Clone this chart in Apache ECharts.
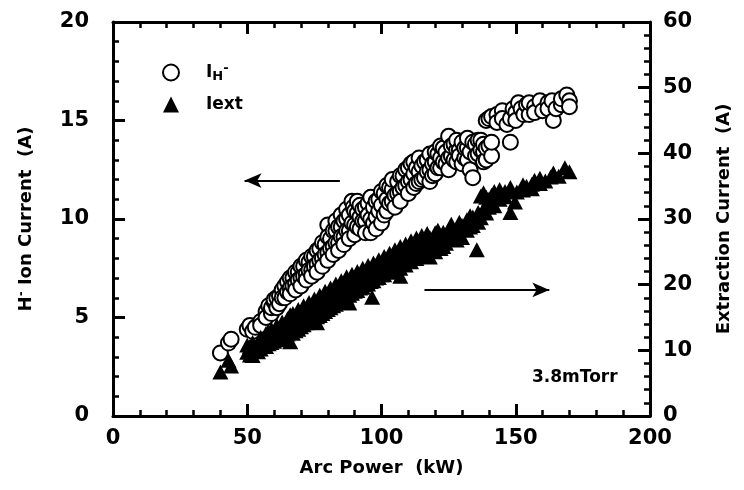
<!DOCTYPE html>
<html>
<head>
<meta charset="utf-8">
<script src="https://cdn.jsdelivr.net/npm/echarts@6/dist/echarts.min.js"></script>
<style>html,body{margin:0;padding:0;background:#fff;}#c{width:744px;height:490px;}</style>
</head>
<body>
<div id="c"></div>
<script>
// [arc power (kW), H- ion current (A)] — left axis
const ihPoints = [
[40,3.2],[43,3.7],[44,3.9],[50,4.4],[51,4.6],[52,4.3],[53,4.5],[55,4.8],[55,4.6],[57,5.3],[57,5.0],[58,5.6],[59,5.2],[59,5.5],
[60,5.8],[60,5.9],[61,5.5],[61,6.0],[62,6.1],[62,5.7],[63,6.4],[63,6.0],[64,6.0],[64,6.6],[65,6.8],[65,6.3],[66,6.5],[66,7.0],[66,6.2],
[67,7.0],[67,6.6],[68,6.7],[68,7.3],[68,6.4],[69,7.3],[69,6.9],[70,7.0],[70,7.6],[70,6.6],[71,7.6],[71,7.1],[72,7.2],[72,7.9],[72,6.9],
[73,7.8],[73,7.4],[74,7.4],[74,8.1],[74,7.1],[75,8.1],[75,7.6],[76,7.7],[76,8.4],[76,7.3],[77,8.5],[77,7.9],[78,8.0],[78,8.8],[78,7.6],
[79,8.7],[79,8.2],[80,9.7],[80,8.3],[80,9.1],[80,7.9],[81,9.0],[81,8.5],[82,8.6],[82,9.4],[82,8.2],[83,9.4],[83,8.8],[83,9.9],
[84,8.8],[84,9.6],[84,8.4],[85,9.6],[85,9.1],[85,10.2],[86,9.1],[86,9.9],[86,8.7],[87,10.0],[87,9.4],[87,10.5],[88,9.4],[88,10.2],[88,9.0],
[89,10.9],[89,9.8],[89.5,10.6],[90,9.7],[90,10.4],[90,9.2],[91,10.3],[91,9.6],[91,10.9],[92,9.5],[92,10.1],[92,10.7],[93,10.5],[93,9.9],
[94,9.9],[94,10.6],[94,9.3],[95,10.8],[95,10.2],[96,9.3],[96,10.0],[96,11.1],[97,10.6],[97,9.8],[98,10.1],[98,10.9],[98,9.5],[99,11.0],[99,10.4],
[100,9.8],[100,10.7],[100,11.4],[101,11.3],[101,10.2],[102,10.4],[102,11.0],[102,11.7],[103,11.6],[103,10.8],[104,10.9],[104,11.5],[104,12.0],
[105,11.2],[105,10.6],[106,11.9],[106,11.3],[107,11.4],[107,12.2],[107,10.9],[108,12.2],[108,11.6],[109,11.7],[109,12.5],[110,12.6],[110,11.9],[110,11.3],
[111,12.0],[111,12.8],[112,12.9],[112,12.3],[112,11.6],[113,11.8],[113,12.6],[114,12.4],[114,11.9],[114,13.1],[115,12.7],[115,12.0],[116,12.1],[116,12.9],
[117,13.0],[117,12.4],[118,12.5],[118,13.3],[118,11.9],[119,12.2],[119,12.8],[120,12.9],[120,13.4],[120,12.3],[121,13.3],[121,12.6],
[122,12.6],[122,13.1],[122,13.7],[123,13.6],[123,12.9],[124,12.8],[124,13.4],[125,14.2],[125,13.1],[125,12.5],[126,13.2],[126,13.7],[127,13.8],[127,13.0],
[128,12.9],[128,13.5],[128,14.0],[129,13.5],[129,13.2],[130,13.9],[130,12.8],[131,13.1],[131,13.6],[132,13.6],[132,14.1],[132,13.0],[133,12.5],[133,13.4],
[134,12.1],[134,13.9],[135,13.8],[135,13.2],[136,13.3],[136,14.0],[137,14.0],[137,13.5],[138,13.4],[138,12.9],[138,13.8],[139,13.0],[139,15.0],[139,13.6],
[140,13.7],[140,15.1],[141,13.2],[141,15.2],[141,13.9],[143,15.3],[143,14.9],[145,15.5],[145,15.1],[146.7,14.8],[148,13.9],[148,15.1],[149,15.6],
[150,15.4],[150,15.0],[151,15.9],[152,15.6],[153,15.3],[154,15.8],[155,15.3],[155,15.9],[157,15.7],[157,15.4],[159,16.0],[160,15.5],
[162,15.9],[162,15.6],[163.5,16.0],[164,15.0],[165,15.6],[167,15.8],[167,16.1],[169,16.3],[170,16.0],[170,15.7]
];
// [arc power (kW), extraction current (A)] — right axis
const extPoints = [
[40,6.7],[43,8.5],[44,7.6],[50,9.7],[50,10.8],[51,10.6],[51,9.3],[52,9.2],[52,11.2],[53,10.1],[54,11.0],[54,9.8],[55,10.2],[55,12.0],
[56,11.8],[56,10.6],[57,10.6],[57,12.6],[58,12.2],[58,11.0],[59,11.2],[59,13.2],[60,12.6],[60,11.4],[61,11.6],[61,13.8],[61,12.4],
[62,13.0],[62,11.8],[63,12.1],[63,14.3],[63,13.3],[64,13.5],[64,12.3],[65,12.5],[65,14.8],[65,13.6],[66,11.3],[66,14.2],[66,15.4],
[67,13.8],[67,12.6],[67,15.6],[68,13.0],[68,15.0],[69,14.4],[69,13.2],[69,16.2],[70,13.6],[70,15.6],[71,15.0],[71,13.9],[71,16.8],
[72,14.2],[72,16.1],[73,15.5],[73,14.3],[73,17.3],[74,14.6],[74,16.6],[75,16.0],[75,14.8],[75,17.8],[76,15.1],[76,17.2],[76,14.2],
[77,16.6],[77,15.3],[77,18.4],[78,15.6],[78,17.8],[79,17.2],[79,15.9],[79,19.0],[80,16.2],[80,18.4],[81,17.8],[81,16.5],[81,19.5],
[82,16.8],[82,18.9],[83,18.2],[83,17.0],[83,20.1],[84,17.3],[84,19.4],[85,18.8],[85,17.5],[85,20.6],[86,17.8],[86,19.9],
[87,19.3],[87,18.0],[87,21.2],[88,18.4],[88,20.5],[88,17.2],[89,19.8],[89,18.7],[89,21.6],[90,19.0],[90,20.9],[91,20.3],[91,19.1],[91,22.0],
[92,19.5],[92,21.4],[93,20.8],[93,19.6],[93,22.5],[94,20.0],[94,21.8],[95,21.3],[95,20.1],[95,22.9],[96,20.5],[96,22.3],[96.5,18.1],
[97,21.8],[97,20.6],[97,23.3],[98,21.0],[98,22.7],[99,22.3],[99,21.1],[99,23.8],[100,21.5],[100,23.2],[101,22.8],[101,21.5],[101,24.3],
[102,22.0],[102,23.6],[103,23.2],[103,21.9],[103,24.8],[104,22.5],[104,24.1],[105,23.6],[105,22.2],[105,25.3],[106,23.0],[106,24.6],
[107,24.1],[107,22.5],[107,25.8],[107,21.3],[108,23.4],[108,25.1],[109,24.6],[109,23.0],[109,26.2],[110,24.0],[110,25.6],
[111,25.0],[111,23.5],[111,26.7],[112,24.4],[112,26.1],[113,25.4],[113,24.0],[113,27.1],[114,24.8],[114,26.5],[115,25.8],[115,24.3],[115,27.5],
[116,25.1],[116,26.9],[117,26.0],[117,24.6],[117,27.8],[118,25.4],[118,27.2],[118,24.2],[120,27.9],[120,26.0],[120,25.0],[121,26.2],[121,28.3],
[122,27.0],[122,25.5],[123,25.8],[123,28.0],[124,27.5],[124,26.3],[125.5,28.8],[125.5,27.0],[126,27.0],[126,29.2],[128,28.4],[128,26.8],
[129,27.6],[129,29.5],[130,29.0],[130,27.2],[131.8,29.9],[131.8,28.3],[133,28.8],[133,30.5],[134,30.3],[134,29.0],[135.5,25.3],[136,29.5],[136,31.0],
[137,33.5],[137,30.2],[138,34.0],[138,31.5],[139,33.3],[139,30.9],[140,31.8],[140,33.0],[141,33.6],[141,32.4],[142,32.0],[142,34.2],
[144,34.5],[144,33.0],[146,34.2],[146,33.4],[148,31.0],[148,34.8],[149.7,32.6],[150.4,34.1],[152.7,34.4],[152.7,35.2],[154,35.0],
[156,35.3],[156,34.6],[157,35.9],[159,36.2],[159,35.4],[161,35.8],[163,36.4],[164,37.0],[166,36.5],[168.3,37.8],[170,37.2]
];
const xTicks = [0, 50, 100, 150, 200];
const leftTicks = [0, 5, 10, 15, 20];
const rightTicks = [0, 10, 20, 30, 40, 50, 60];
const leftArrow = [[84.5, 11.95], [49, 11.95]];
const rightArrow = [[116, 6.4], [162.5, 6.4]];
const pressureLabel = '3.8mTorr';

const FONT = 'DejaVu Sans';
const chart = echarts.init(document.getElementById('c'), null, {renderer: 'canvas'});
const lbl = {fontFamily: FONT, fontWeight: 'bold', fontSize: 21, color: '#000'};
const nameStyle = {fontFamily: FONT, fontWeight: 'bold', fontSize: 18, color: '#000'};
const axLine = {show: true, onZero: false, lineStyle: {color: '#000', width: 3}};
const tick = (len) => ({show: true, inside: true, length: len, lineStyle: {color: '#000', width: 3}});
const minor = {show: true, splitNumber: 5, length: 6, lineStyle: {color: '#000', width: 2.5}};

chart.setOption({
  animation: false,
  backgroundColor: '#fff',
  grid: {left: 113, right: 94, top: 22, bottom: 74, containLabel: false},
  legend: {
    orient: 'vertical', left: 157, top: 57, itemGap: 13, itemWidth: 16, itemHeight: 16,
    textStyle: {fontFamily: FONT, fontWeight: 'bold', fontSize: 17, color: '#000', padding: [0,0,0,22],
      rich: {
        m: {fontFamily: FONT, fontWeight: 'bold', fontSize: 17, color: '#000'},
        s: {fontFamily: FONT, fontWeight: 'bold', fontSize: 13, color: '#000', verticalAlign: 'bottom', padding: [8,0,0,0]},
        p: {fontFamily: FONT, fontWeight: 'bold', fontSize: 13, color: '#000', verticalAlign: 'top', padding: [0,0,7,0]}
      }},
    formatter: function (name) { return name === 'IH' ? '{m|I}{s|H}{p|-}' : '{m|Iext}'; },
    data: ['IH', 'Iext']
  },
  xAxis: [{
    type: 'value', min: xTicks[0], max: xTicks[xTicks.length-1], interval: 50, position: 'bottom',
    name: 'Arc Power  (kW)', nameLocation: 'middle', nameGap: 43, nameTextStyle: nameStyle,
    axisLine: axLine, axisTick: tick(12), minorTick: minor,
    axisLabel: Object.assign({margin: 12}, lbl), splitLine: {show: false}
  }, {
    type: 'value', min: xTicks[0], max: xTicks[xTicks.length-1], interval: 50, position: 'top',
    axisLine: axLine, axisTick: tick(12), minorTick: minor,
    axisLabel: {show: false}, splitLine: {show: false}
  }],
  yAxis: [{
    type: 'value', min: leftTicks[0], max: leftTicks[leftTicks.length-1], interval: 5, position: 'left',
    name: 'H{sup|-} Ion Current  (A)', nameLocation: 'middle', nameGap: 77,
    nameTextStyle: Object.assign({rich: {sup: {fontFamily: FONT, fontWeight: 'bold', fontSize: 12, color: '#000', verticalAlign: 'top', padding: [0,0,8,0]}}}, nameStyle),
    axisLine: axLine, axisTick: tick(12), minorTick: minor,
    axisLabel: Object.assign({margin: 24}, lbl), splitLine: {show: false}
  }, {
    type: 'value', min: rightTicks[0], max: rightTicks[rightTicks.length-1], interval: 10, position: 'right',
    name: 'Extraction Current  (A)', nameLocation: 'middle', nameGap: 65, nameRotate: 90, nameTextStyle: nameStyle,
    axisLine: axLine, axisTick: tick(12), minorTick: minor,
    axisLabel: Object.assign({margin: 13}, lbl), splitLine: {show: false}
  }],
  series: [{
    name: 'IH', type: 'scatter', xAxisIndex: 0, yAxisIndex: 0, data: ihPoints,
    symbol: 'circle', symbolSize: 15,
    itemStyle: {color: '#fff', borderColor: '#000', borderWidth: 2, opacity: 1},
    z: 2,
    markLine: {
      silent: true, animation: false, symbol: ['none', 'arrow'], symbolSize: [11, 17],
      label: {show: false}, lineStyle: {color: '#000', width: 2, type: 'solid'},
      data: [
        [{coord: leftArrow[0]}, {coord: leftArrow[1]}],
        [{coord: rightArrow[0]}, {coord: rightArrow[1]}]
      ]
    }
  }, {
    name: 'Iext', type: 'scatter', xAxisIndex: 0, yAxisIndex: 1, data: extPoints,
    symbol: 'triangle', symbolSize: [16, 15],
    itemStyle: {color: '#000', opacity: 1},
    z: 3
  }],
  graphic: [{
    type: 'text', left: 532, top: 369, z: 10,
    style: {text: pressureLabel, fontFamily: FONT, fontWeight: 'bold', fontSize: 17, fill: '#000'}
  }]
});
</script>
</body>
</html>
